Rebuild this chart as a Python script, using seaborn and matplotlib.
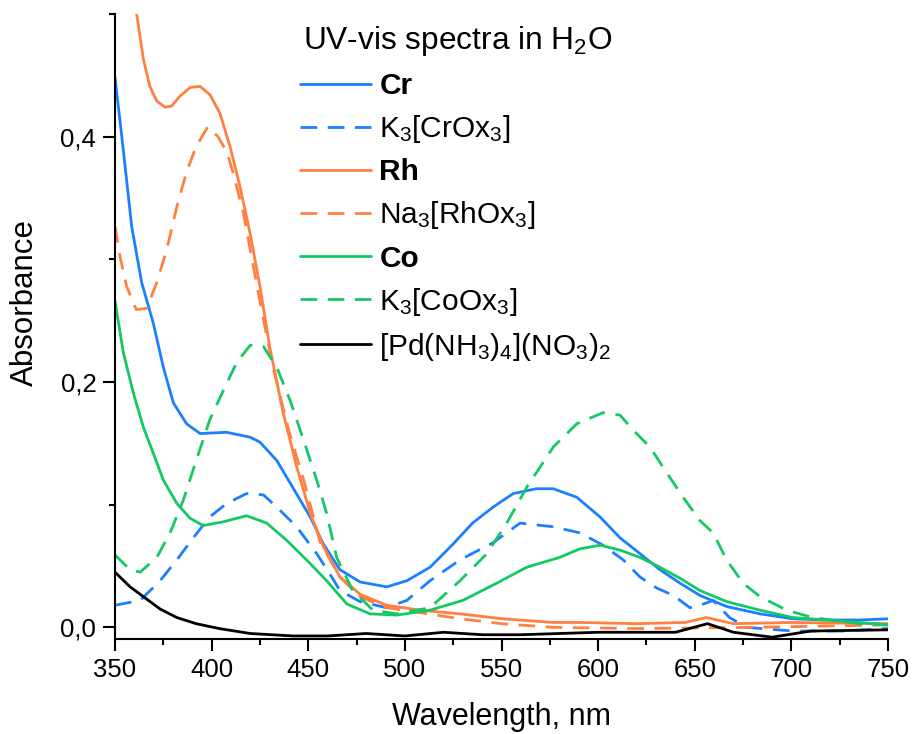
import matplotlib
matplotlib.use("Agg")
import matplotlib.pyplot as plt
import seaborn as sns
from matplotlib.ticker import MultipleLocator, FuncFormatter

# Wavelengths (nm) and absorbances
cr_wl = [350, 354.3, 358.6, 363.8, 369.8, 375, 380.2, 387, 394, 407.8, 419.9, 425, 433.7, 442, 451,
         457.8, 466.4, 476.8, 490.6, 501, 513, 525, 535, 545.6, 556, 568, 576.8, 589, 601, 611.3,
         621.7, 632, 642.4, 652.7, 666.5, 683.8, 700.8, 718, 735.5, 750]
cr_abs = [0.448, 0.389, 0.327, 0.281, 0.248, 0.212, 0.183, 0.166, 0.158, 0.159, 0.155, 0.151, 0.136,
          0.114, 0.090, 0.068, 0.047, 0.037, 0.033, 0.038, 0.049, 0.068, 0.085, 0.098, 0.109, 0.113,
          0.113, 0.106, 0.090, 0.073, 0.060, 0.047, 0.036, 0.026, 0.017, 0.011, 0.007, 0.006, 0.006,
          0.007]

crox_wl = [350, 363, 373.3, 382, 390.5, 399, 407.8, 418, 426.8, 433.7, 444, 454.4, 461, 466.4, 476.8,
           490.6, 501, 513, 528.5, 545.6, 559.6, 576.8, 590.6, 602.5, 613, 621.7, 630.4, 639, 647.5,
           654.5, 659.5, 668, 676.8, 700.8, 726, 750]
crox_abs = [0.018, 0.022, 0.038, 0.055, 0.073, 0.090, 0.101, 0.109, 0.108, 0.098, 0.082, 0.060, 0.044,
            0.030, 0.021, 0.016, 0.022, 0.038, 0.055, 0.069, 0.085, 0.082, 0.077, 0.067, 0.055, 0.041,
            0.032, 0.026, 0.016, 0.019, 0.022, 0.008, 0.000, -0.003, -0.003, -0.001]

rh_wl = [350, 355, 361.2, 364.7, 368, 371.6, 375.9, 379.3, 383.6, 388.8, 394, 399.2, 404.3, 409.5,
         414.7, 419.9, 425, 430, 437, 444, 451, 457.8, 466.4, 476.8, 490.6, 508, 528.5, 550.6, 576.8,
         590.6, 620, 645, 656, 670, 700, 750]
rh_abs = [0.64, 0.565, 0.500, 0.463, 0.441, 0.429, 0.424, 0.425, 0.433, 0.440, 0.441, 0.434, 0.419,
          0.392, 0.359, 0.321, 0.278, 0.229, 0.175, 0.131, 0.093, 0.066, 0.041, 0.027, 0.018, 0.014,
          0.011, 0.007, 0.004, 0.004, 0.003, 0.004, 0.008, 0.003, 0.004, 0.003]

rhox_wl = [350, 352.6, 356, 361, 366.4, 371.6, 376.8, 382, 387, 392, 398, 403.3, 408, 411, 416.4,
           421.6, 426.8, 432, 440, 448, 456, 466.4, 476.8, 490.6, 508, 528.5, 550, 576.8, 620, 680,
           750]
rhox_abs = [0.327, 0.302, 0.278, 0.259, 0.260, 0.281, 0.308, 0.343, 0.371, 0.392, 0.408, 0.400, 0.387,
            0.371, 0.338, 0.294, 0.251, 0.210, 0.160, 0.118, 0.070, 0.041, 0.025, 0.016, 0.012, 0.007,
            0.003, 0.000, -0.001, 0.000, 0.002]

co_wl = [350, 354.3, 359.5, 364.7, 369.8, 375, 382, 388.8, 395.5, 406, 418, 428.5, 438.8, 451, 459.5,
         470, 482, 495.8, 513, 530, 547.5, 563, 580, 590.6, 601, 611.3, 621.7, 632, 642.4, 652.7,
         666.5, 683.8, 700.8, 718, 751]
co_abs = [0.266, 0.224, 0.191, 0.163, 0.142, 0.120, 0.101, 0.089, 0.083, 0.086, 0.091, 0.085, 0.071,
          0.052, 0.038, 0.019, 0.011, 0.010, 0.014, 0.022, 0.036, 0.049, 0.057, 0.064, 0.067, 0.063,
          0.057, 0.049, 0.040, 0.030, 0.021, 0.014, 0.008, 0.006, 0.002]

coox_wl = [350, 357.8, 363, 371.6, 378.5, 385.4, 392, 399, 406, 413, 420, 426.8, 433.7, 440.6, 447.5,
           454.4, 459.5, 464.7, 473, 483.5, 495.8, 513, 528.5, 542.4, 552.7, 563, 576.8, 589, 602.5,
           611.3, 618, 626.8, 635.5, 644, 652.7, 659.5, 666.5, 675, 683.8, 697.6, 711, 735.5, 750]
coox_abs = [0.059, 0.047, 0.045, 0.057, 0.077, 0.104, 0.136, 0.169, 0.193, 0.216, 0.230, 0.229, 0.212,
            0.185, 0.153, 0.120, 0.093, 0.057, 0.030, 0.014, 0.011, 0.016, 0.038, 0.060, 0.085, 0.114,
            0.147, 0.166, 0.175, 0.173, 0.161, 0.147, 0.126, 0.106, 0.087, 0.077, 0.055, 0.036, 0.025,
            0.014, 0.008, 0.003, 0.002]

pd_wl = [350, 357.8, 364.7, 373.3, 382, 392, 404, 420, 442, 460, 480, 500, 520, 540, 560, 600, 640,
         656.6, 670, 690, 710, 750]
pd_abs = [0.045, 0.033, 0.025, 0.015, 0.008, 0.003, -0.001, -0.005, -0.007, -0.007, -0.005, -0.007,
          -0.004, -0.006, -0.006, -0.004, -0.004, 0.003, -0.004, -0.008, -0.003, -0.002]

labels = [r"Cr", r"K$_3$[CrOx$_3$]", r"Rh", r"Na$_3$[RhOx$_3$]", r"Co", r"K$_3$[CoOx$_3$]",
          r"[Pd(NH$_3$)$_4$](NO$_3$)$_2$"]
legend_title = r"UV-vis spectra in H$_2$O"

BLUE, ORANGE, GREEN = "#1a80ff", "#ff8040", "#14c864"

sns.set_style("ticks", {"axes.edgecolor": "black", "text.color": "black",
                        "axes.labelcolor": "black", "xtick.color": "black",
                        "ytick.color": "black"})
plt.rcParams["font.family"] = ["Liberation Sans", "DejaVu Sans"]
plt.rcParams["mathtext.fontset"] = "custom"
plt.rcParams["mathtext.rm"] = "Liberation Sans"
plt.rcParams["mathtext.it"] = "Liberation Sans"
plt.rcParams["mathtext.bf"] = "Liberation Sans:bold"

fig = plt.figure(figsize=(9.15, 7.34), dpi=100)
ax = fig.add_axes([0.1257, 0.1294, 0.8448, 0.8516])

series = [
    (cr_wl, cr_abs, BLUE, False),
    (crox_wl, crox_abs, BLUE, True),
    (rh_wl, rh_abs, ORANGE, False),
    (rhox_wl, rhox_abs, ORANGE, True),
    (co_wl, co_abs, GREEN, False),
    (coox_wl, coox_abs, GREEN, True),
    (pd_wl, pd_abs, "black", False),
]

for (x, y, c, dashed), lab in zip(series, labels):
    sns.lineplot(x=x, y=y, ax=ax, color=c, lw=2.0, label=lab, estimator=None, sort=False)
    if dashed:
        ax.lines[-1].set_dashes((6.0, 3.8))

ax.set_xlim(350, 750)
ax.set_ylim(-0.0095, 0.5)
ax.xaxis.set_major_locator(MultipleLocator(50))
ax.xaxis.set_minor_locator(MultipleLocator(25))
ax.yaxis.set_major_locator(MultipleLocator(0.2))
ax.yaxis.set_minor_locator(MultipleLocator(0.1))
ax.yaxis.set_major_formatter(FuncFormatter(lambda v, p: f"{v:.1f}".replace(".", ",")))
ax.tick_params(which="major", direction="out", length=8.5, width=1.5, labelsize=18.5, pad=5,
               colors="black")
ax.tick_params(which="minor", direction="out", length=4.5, width=1.5, colors="black")
sns.despine(ax=ax)
for s in ("left", "bottom"):
    ax.spines[s].set_linewidth(1.5)
    ax.spines[s].set_color("black")

ax.set_xlabel("Wavelength, nm", fontsize=22, va="baseline", color="black")
ax.set_ylabel("Absorbance", fontsize=22.5, color="black")
ax.xaxis.set_label_coords(0.5, -0.1376)
ax.yaxis.set_label_coords(-0.097, 0.538)

# legend title as separate text so the gap to the entries matches
ax.text(0.243, 0.944, legend_title, transform=ax.transAxes, fontsize=22.8,
        ha="left", va="baseline", color="black")
leg = ax.legend(frameon=False, loc="upper left", bbox_to_anchor=(0.239, 0.907),
                fontsize=21.5, handlelength=2.4, handletextpad=0.27, labelspacing=0.44,
                borderaxespad=0, borderpad=0, labelcolor="black")
for i in (0, 2, 4):
    leg.get_texts()[i].set_fontweight("bold")

plt.savefig("out.png", dpi=100)
